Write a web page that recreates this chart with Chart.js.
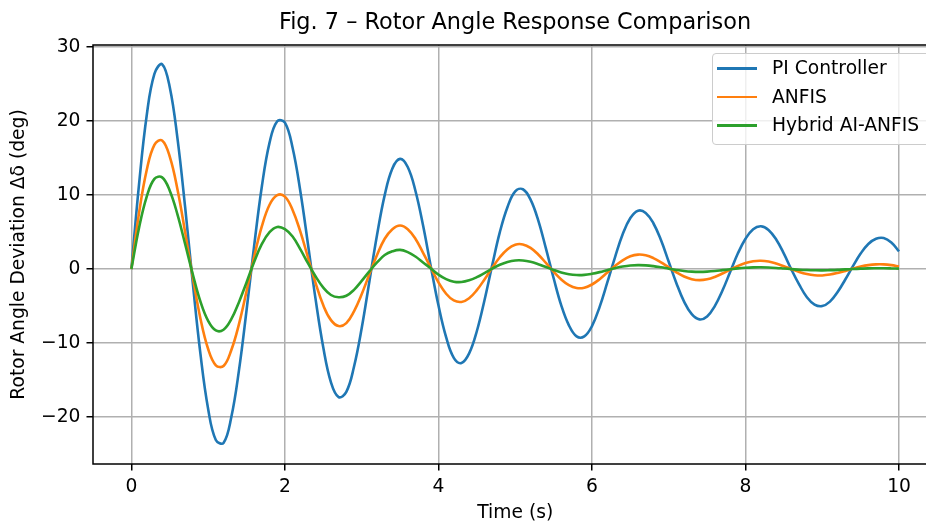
<!DOCTYPE html>
<html>
<head>
<meta charset="utf-8">
<script src="https://cdn.jsdelivr.net/npm/chart.js@4.4.1/dist/chart.umd.min.js"></script>
<style>
  html, body { margin: 0; padding: 0; background: #fff; overflow: hidden; }
  #wrap { position: relative; width: 940px; height: 525px; }
  #title { position: absolute; left: 93px; width: 844px; top: 8px; text-align: center;
           font: 22.4px "DejaVu Sans"; line-height: 27px; color: #000; white-space: nowrap; }
  #legend { position: absolute; left: 712px; top: 53px; width: 216px; padding: 0 0 4px 0;
            border: 1px solid #ccc; border-radius: 4px; background: rgba(255,255,255,0.8);
            font: 18.7px "DejaVu Sans"; color: #000; }
  .row { position: relative; height: 28.7px; line-height: 28.7px; }
  .row i { position: absolute; left: 4px; top: 13px; width: 40px; height: 2.6px; }
  .row span { position: absolute; left: 59px; white-space: nowrap; }
</style>
</head>
<body>
<div id="wrap">
  <canvas id="chart" width="940" height="525"></canvas>
  <div id="title">Fig. 7 – Rotor Angle Response Comparison</div>
  <div id="legend"></div>
</div>
<script>
// time axis (s)
const time = [0, 0.1, 0.2, 0.3, 0.4, 0.5, 0.6, 0.7, 0.8, 0.9,
  1, 1.1, 1.2, 1.3, 1.4, 1.5, 1.6, 1.7, 1.8, 1.9,
  2, 2.1, 2.2, 2.3, 2.4, 2.5, 2.6, 2.7, 2.8, 2.9,
  3, 3.1, 3.2, 3.3, 3.4, 3.5, 3.6, 3.7, 3.8, 3.9,
  4, 4.1, 4.2, 4.3, 4.4, 4.5, 4.6, 4.7, 4.8, 4.9,
  5, 5.1, 5.2, 5.3, 5.4, 5.5, 5.6, 5.7, 5.8, 5.9,
  6, 6.1, 6.2, 6.3, 6.4, 6.5, 6.6, 6.7, 6.8, 6.9,
  7, 7.1, 7.2, 7.3, 7.4, 7.5, 7.6, 7.7, 7.8, 7.9,
  8, 8.1, 8.2, 8.3, 8.4, 8.5, 8.6, 8.7, 8.8, 8.9,
  9, 9.1, 9.2, 9.3, 9.4, 9.5, 9.6, 9.7, 9.8, 9.9,
  10];

// rotor angle deviation (deg)
const piController = [0, 11.5, 20.8, 26.4, 27.7, 24.6, 17.7, 8.4, -1.9, -11.5,
  -18.9, -23.1, -23.5, -20.1, -13.8, -5.6, 3.2, 11.2, 17.1, 20.0,
  19.8, 16.4, 10.6, 3.4, -4.1, -10.6, -15.3, -17.3, -16.6, -13.2,
  -8.0, -1.7, 4.6, 10.0, 13.6, 14.9, 13.8, 10.6, 5.9, 0.4,
  -4.9, -9.2, -12.0, -12.7, -11.4, -8.4, -4.2, 0.5, 5.0, 8.4,
  10.5, 10.8, 9.4, 6.6, 2.8, -1.2, -4.9, -7.6, -9.1, -9.1,
  -7.7, -5.1, -1.8, 1.6, 4.7, 6.9, 7.9, 7.6, 6.2, 3.9,
  1.0, -1.9, -4.4, -6.1, -6.8, -6.4, -5.0, -2.9, -0.4, 2.1,
  4.1, 5.4, 5.8, 5.3, 4.0, 2.1, -0.1, -2.1, -3.8, -4.8,
  -5.0, -4.4, -3.1, -1.4, 0.4, 2.1, 3.4, 4.1, 4.2, 3.6,
  2.4];

const anfis = [0, 7.6, 13.4, 16.8, 17.4, 15.2, 10.8, 5.0, -1.1, -6.7,
  -10.8, -13.0, -13.1, -11.0, -7.5, -3.0, 1.7, 5.8, 8.7, 10.0,
  9.8, 8.0, 5.1, 1.6, -1.9, -4.9, -6.9, -7.7, -7.3, -5.7,
  -3.4, -0.7, 1.9, 4.1, 5.4, 5.9, 5.4, 4.1, 2.2, 0.2,
  -1.79, -3.33, -4.24, -4.44, -3.93, -2.85, -1.40, 0.17, 1.61, 2.70,
  3.30, 3.34, 2.87, 1.98, 0.84, -0.35, -1.40, -2.17, -2.55, -2.51,
  -2.08, -1.36, -0.47, 0.42, 1.19, 1.73, 1.96, 1.87, 1.49, 0.91,
  0.23, -0.44, -1.00, -1.36, -1.49, -1.38, -1.06, -0.60, -0.08, 0.42,
  0.82, 1.07, 1.13, 1.02, 0.75, 0.39, -0.01, -0.39, -0.67, -0.83,
  -0.86, -0.74, -0.52, -0.24, 0.07, 0.34, 0.54, 0.64, 0.64, 0.54,
  0.36];

const hybridAnfis = [0, 5.6, 9.8, 12.2, 12.4, 10.6, 7.4, 3.4, -0.7, -4.4,
  -7.0, -8.3, -8.2, -6.8, -4.5, -1.8, 1.0, 3.4, 5.0, 5.7,
  5.4, 4.4, 2.7, 0.8, -1.0, -2.5, -3.5, -3.8, -3.6, -2.8,
  -1.6, -0.3, 0.9, 1.9, 2.4, 2.6, 2.3, 1.7, 0.9, 0.1,
  -0.74, -1.35, -1.70, -1.75, -1.52, -1.09, -0.53, 0.06, 0.59, 0.97,
  1.17, 1.17, 0.99, 0.67, 0.28, -0.11, -0.45, -0.69, -0.80, -0.78,
  -0.63, -0.41, -0.14, 0.12, 0.34, 0.49, 0.54, 0.51, 0.40, 0.24,
  0.06, -0.11, -0.25, -0.34, -0.37, -0.34, -0.26, -0.14, -0.02, 0.10,
  0.19, 0.24, 0.25, 0.22, 0.16, 0.08, 0.00, -0.08, -0.13, -0.16,
  -0.17, -0.14, -0.10, -0.04, 0.01, 0.06, 0.10, 0.11, 0.11, 0.09,
  0.06];

const seriesNames = ['PI Controller', 'ANFIS', 'Hybrid AI-ANFIS'];
const seriesColors = ['#1f77b4', '#ff7f0e', '#2ca02c'];
const xTicks = [0, 2, 4, 6, 8, 10];
const yTicks = [-20, -10, 0, 10, 20, 30];

Chart.defaults.font.family = 'DejaVu Sans';
Chart.defaults.color = '#000';

function minusFmt(v) {
    return v < 0 ? '\u2212' + Math.abs(v) : String(v);
}

// axes frame drawn over the lines, like matplotlib spines
const framePlugin = {
    id: 'frame',
    afterDatasetsDraw(chart) {
        const a = chart.chartArea;
        const ctx = chart.ctx;
        ctx.save();
        ctx.strokeStyle = '#000';
        ctx.lineWidth = 1.5;
        ctx.strokeRect(a.left, a.top, a.right - a.left, a.bottom - a.top);
        ctx.restore();
    }
};

const allSeries = [piController, anfis, hybridAnfis];
const datasets = allSeries.map(function (vals, i) {
    return {
        label: seriesNames[i],
        data: time.map((t, j) => ({x: t, y: vals[j]})),
        borderColor: seriesColors[i],
        backgroundColor: seriesColors[i],
        borderWidth: 2.6,
        pointRadius: 0,
        tension: 0.4,
        fill: false,
        order: allSeries.length - i
    };
});

const gridOpts = {
    color: '#b0b0b0',
    lineWidth: 1.5,
    tickColor: '#000',
    tickLength: 6.5,
    tickWidth: 1.5
};

new Chart(document.getElementById('chart'), {
    type: 'line',
    data: {datasets: datasets},
    options: {
        responsive: false,
        animation: false,
        layout: {padding: {top: 45, right: 2.6, left: 0, bottom: 0}},
        plugins: {
            legend: {display: false},
            tooltip: {enabled: false},
            title: {display: false}
        },
        scales: {
            x: {
                type: 'linear',
                min: -0.5,
                max: 10.5,
                afterBuildTicks: s => { s.ticks = xTicks.map(v => ({value: v})); },
                afterFit: s => { s.height = 61; },
                grid: gridOpts,
                border: {display: false},
                ticks: {font: {size: 18.7}, padding: 5, maxRotation: 0, color: '#000', callback: v => minusFmt(v)},
                title: {display: true, text: 'Time (s)', color: '#000', font: {size: 18.7}, padding: {top: 0, bottom: 1}}
            },
            y: {
                type: 'linear',
                min: -26.35,
                max: 30.3,
                afterBuildTicks: s => { s.ticks = yTicks.map(v => ({value: v})); },
                afterFit: s => { s.width = 93; },
                grid: gridOpts,
                border: {display: false},
                ticks: {font: {size: 18.7}, padding: 6, color: '#000', callback: v => minusFmt(v)},
                title: {display: true, text: 'Rotor Angle Deviation Δδ (deg)', color: '#000', font: {size: 18.7}, padding: {top: 8, bottom: 0}}
            }
        }
    },
    plugins: [framePlugin]
});

// legend box in the upper right of the axes
const legend = document.getElementById('legend');
seriesNames.forEach(function (name, i) {
    const row = document.createElement('div');
    row.className = 'row';
    row.innerHTML = '<i style="background:' + seriesColors[i] + '"></i><span>' + name + '</span>';
    legend.appendChild(row);
});
</script>
</body>
</html>
